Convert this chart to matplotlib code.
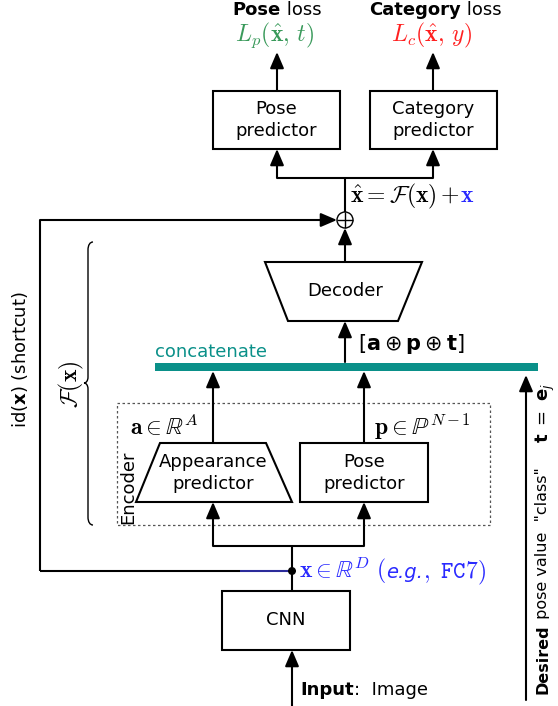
import matplotlib
matplotlib.use("Agg")
import matplotlib.pyplot as plt
from matplotlib.patches import Rectangle, Polygon, Circle, PathPatch, FancyArrowPatch
from matplotlib.path import Path

plt.rcParams['font.family'] = ['DejaVu Sans']
plt.rcParams['mathtext.fontset'] = 'cm'

# ---- diagram content ----
loss_titles = ["Pose", "Category"]
loss_formulas = [r"$L_p(\hat{\mathbf{x}},\, t)$", r"$L_c(\hat{\mathbf{x}},\, y)$"]
loss_colors = ["#3a9a5b", "#ff2020"]
top_boxes = ["Pose\npredictor", "Category\npredictor"]
enc_boxes = ["Appearance\npredictor", "Pose\npredictor"]
enc_labels = [r"$\mathbf{a} \in \mathbb{R}^A$", r"$\mathbf{p} \in \mathbb{P}^{N-1}$"]

W, H = 558, 706
fig = plt.figure(figsize=(W / 100, H / 100), dpi=100)
ax = fig.add_axes([0, 0, 1, 1])
ax.set_xlim(0, W)
ax.set_ylim(H, 0)
ax.axis("off")

LW = 1.5
FS = 13
MFS = 17
TEAL = "#0a9089"
BLUE = "#2a2aff"


def line(xs, ys, color="black", lw=LW, z=2):
    ax.plot(xs, ys, color=color, lw=lw, solid_capstyle="butt", solid_joinstyle="miter", zorder=z)


def arrow(x0, y0, x1, y1):
    a = FancyArrowPatch((x0, y0), (x1, y1), arrowstyle="-|>,head_length=0.7,head_width=0.3",
                        mutation_scale=14, lw=LW, color="black", shrinkA=0, shrinkB=0, zorder=3)
    ax.add_patch(a)


def box(x0, y0, x1, y1):
    ax.add_patch(Rectangle((x0, y0), x1 - x0, y1 - y0, fill=False, lw=LW, ec="black", zorder=2))


def chain(prev, s, y, **kw):
    return ax.annotate(s, xy=(1, y), xycoords=(prev, "data"), ha="left", va="baseline", **kw)


# ---- top: losses ----
loss_x = [277, 433]
title_end = [281, 461]
for lx, te, title, form, col in zip(loss_x, title_end, loss_titles, loss_formulas, loss_colors):
    t1 = ax.text(te, 15, title, fontsize=FS, fontweight="bold", ha="right", va="baseline")
    chain(t1, " loss", 15, fontsize=FS)
    ax.text(lx - 2, 35, form, fontsize=MFS, color=col, ha="center", va="center")
    arrow(lx, 91, lx, 52)

# top predictor boxes
top_box_x = [(213, 340), (370, 497)]
for (x0, x1), lab, lx in zip(top_box_x, top_boxes, loss_x):
    box(x0, 91, x1, 149)
    ax.text((x0 + x1) / 2, 120, lab, fontsize=FS, ha="center", va="center", linespacing=1.25)
    arrow(lx, 178, lx, 149)
line([loss_x[0], loss_x[1]], [178, 178])
line([345, 345], [178, 212])

# x_hat label
t = ax.text(350, 202, r"$\hat{\mathbf{x}} = \mathcal{F}(\mathbf{x}) + $", fontsize=MFS, ha="left", va="baseline")
chain(t, r"$\mathbf{x}$", 202, fontsize=MFS, color=BLUE)

# oplus
ax.add_patch(Circle((345, 220), 8, fill=False, lw=1.0, ec="black", zorder=3))
line([337, 353], [220, 220], lw=1.0)
line([345, 345], [212, 228], lw=1.0)

# shortcut
line([40, 40], [220, 571])
arrow(40, 220, 337, 220)
line([40, 240], [571, 571])
line([240, 292], [571, 571], color="#2b2b9a")
ax.text(20, 360, r"id($\mathbf{x}$) (shortcut)", fontsize=FS, rotation=90, ha="center", va="center",
        math_fontfamily="dejavusans")

# decoder
ax.add_patch(Polygon([(265, 262), (422, 262), (398, 321), (288, 321)], closed=True, fill=False,
                     lw=LW, ec="black", zorder=2))
ax.text(345, 291, "Decoder", fontsize=FS, ha="center", va="center")
arrow(345, 262, 345, 228)
arrow(345, 362, 345, 321)
ax.text(358, 344, r"$[\mathbf{a} \oplus \mathbf{p} \oplus \mathbf{t}]$", fontsize=15, ha="left", va="center",
        math_fontfamily="dejavusans")

# concatenate bar
ax.add_patch(Rectangle((155, 363), 383, 8, fc=TEAL, ec="none", zorder=2))
ax.text(155, 352, "concatenate", fontsize=FS, color=TEAL, ha="left", va="center")

# brace F(x)
verts = [(93, 242), (90, 242), (88, 245), (88, 250),
         (88, 377),
         (88, 381), (86, 383), (84, 383),
         (86, 383), (88, 385), (88, 389),
         (88, 517),
         (88, 522), (90, 525), (93, 525)]
codes = [Path.MOVETO, Path.CURVE4, Path.CURVE4, Path.CURVE4,
         Path.LINETO,
         Path.CURVE4, Path.CURVE4, Path.CURVE4,
         Path.CURVE4, Path.CURVE4, Path.CURVE4,
         Path.LINETO,
         Path.CURVE4, Path.CURVE4, Path.CURVE4]
ax.add_patch(PathPatch(Path(verts, codes), fill=False, lw=1.0, ec="black"))
ax.text(71, 384, r"$\mathcal{F}(\mathbf{x})$", fontsize=MFS, rotation=90, ha="center", va="center")

# encoder dashed box
ax.add_patch(Rectangle((117, 403), 373, 122, fill=False, lw=0.9, ec="#555555",
                       linestyle=(0, (2, 2)), zorder=1))
ax.text(128, 524, "Encoder", fontsize=FS, rotation=90, ha="center", va="bottom")

# encoder predictors
ax.add_patch(Polygon([(160, 443), (266, 443), (292, 502), (136, 502)], closed=True, fill=False,
                     lw=LW, ec="black", zorder=2))
box(300, 443, 428, 502)
enc_x = [213, 364]
for ex, lab in zip(enc_x, enc_boxes):
    ax.text(ex, 473, lab, fontsize=FS, ha="center", va="center", linespacing=1.25)
    arrow(ex, 443, ex, 371)
    arrow(ex, 546, ex, 502)
ax.text(130, 427, enc_labels[0], fontsize=MFS, ha="left", va="center")
ax.text(374, 427, enc_labels[1], fontsize=MFS, ha="left", va="center")
line([enc_x[0], enc_x[1]], [546, 546])
line([292, 292], [546, 591])
ax.add_patch(Circle((292, 571), 4, fc="black", ec="none", zorder=4))
t = ax.text(299, 578, r"$\mathbf{x} \in \mathbb{R}^D\ ($", fontsize=MFS, color=BLUE, ha="left", va="baseline")
t = chain(t, "e.g.", 578, fontsize=14, color=BLUE, style="italic")
chain(t, r"$,\ \mathtt{FC7})$", 578, fontsize=MFS, color=BLUE)

# CNN
box(222, 591, 350, 650)
ax.text(286, 620, "CNN", fontsize=FS, ha="center", va="center")
arrow(292, 706, 292, 650)
t = ax.text(300, 695, "Input", fontsize=FS, fontweight="bold", ha="left", va="baseline")
chain(t, ":  Image", 695, fontsize=FS)

# desired pose arrow
arrow(526, 700, 526, 375)
t = ax.text(543, 694, "Desired", fontsize=11.5, fontweight="bold", rotation=90, ha="center", va="bottom")
ax.annotate(' pose value  "class"', xy=(1, 1), xycoords=t, fontsize=11.5, rotation=90,
            ha="right", va="bottom")
ax.text(545, 413, r"$\mathbf{t}\ =\ \mathbf{e}_j$", fontsize=13, rotation=90, ha="center", va="center",
        math_fontfamily="dejavusans")

fig.savefig("out.png", dpi=100)
